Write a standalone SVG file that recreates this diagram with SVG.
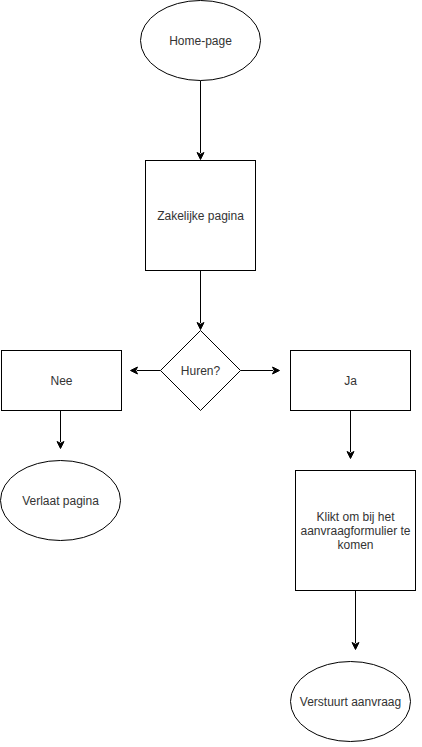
<svg xmlns="http://www.w3.org/2000/svg" width="422" height="747" viewBox="0 0 422 747">
<style>
.s{fill:#ffffff;stroke:#000000;stroke-width:1}
.e{fill:none;stroke:#000000;stroke-width:1}
.a{fill:#000000;stroke:#000000;stroke-width:1}
text{font-family:"Liberation Sans",Arial,Helvetica,sans-serif;font-size:12px;fill:#333333;text-anchor:middle;dominant-baseline:central}
</style>
<rect width="422" height="747" fill="#ffffff"/>
<g id="connectors">
<path class="e" d="M200.5 80.5 V153"/>
<path class="a" d="M200.5 159.5 L197 152.5 L200.5 154.25 L204 152.5 Z"/>
<path class="e" d="M200.5 270.5 V323"/>
<path class="a" d="M200.5 329.5 L197 322.5 L200.5 324.25 L204 322.5 Z"/>
<path class="e" d="M160.5 370.5 H137"/>
<path class="a" d="M130.5 370.5 L137.5 367 L135.75 370.5 L137.5 374 Z"/>
<path class="e" d="M240.5 370.5 H273"/>
<path class="a" d="M279.5 370.5 L272.5 367 L274.25 370.5 L272.5 374 Z"/>
<path class="e" d="M60.5 410.5 V442"/>
<path class="a" d="M60.5 448.5 L57 441.5 L60.5 443.25 L64 441.5 Z"/>
<path class="e" d="M350.5 410.5 V452"/>
<path class="a" d="M350.5 458.5 L347 451.5 L350.5 453.25 L354 451.5 Z"/>
<path class="e" d="M355.5 590.5 V643"/>
<path class="a" d="M355.5 649.5 L352 642.5 L355.5 644.25 L359 642.5 Z"/>
</g>
<g id="home">
<ellipse class="s" cx="200.5" cy="40.5" rx="60" ry="40"/>
<text x="200.5" y="40.5">Home-page</text>
</g>
<g id="zakelijk">
<rect class="s" x="145.5" y="160.5" width="110" height="110"/>
<text x="200.5" y="215.5">Zakelijke pagina</text>
</g>
<g id="huren">
<path class="s" d="M200.5 330.5 L240.5 370.5 L200.5 410.5 L160.5 370.5 Z"/>
<text x="200.5" y="370.5">Huren?</text>
</g>
<g id="nee">
<rect class="s" x="1.5" y="350.5" width="120" height="60"/>
<text x="61.5" y="380.5">Nee</text>
</g>
<g id="ja">
<rect class="s" x="290.5" y="350.5" width="120" height="60"/>
<text x="350.5" y="380.5">Ja</text>
</g>
<g id="verlaat">
<ellipse class="s" cx="60.5" cy="500.5" rx="60" ry="40"/>
<text x="60.5" y="500.5">Verlaat pagina</text>
</g>
<g id="klikt">
<rect class="s" x="295.5" y="470.5" width="120" height="120"/>
<text x="355.5" y="516.5">Klikt om bij het</text>
<text x="355.5" y="530.5">aanvraagformulier te</text>
<text x="355.5" y="544.5">komen</text>
</g>
<g id="verstuurt">
<ellipse class="s" cx="350.5" cy="701.5" rx="60" ry="40"/>
<text x="350.5" y="701.5">Verstuurt aanvraag</text>
</g>
</svg>
